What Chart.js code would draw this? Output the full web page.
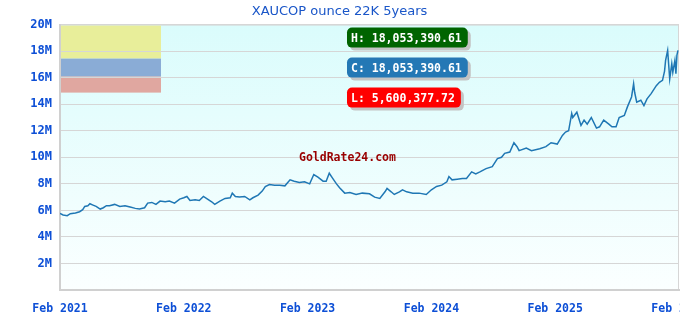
<!DOCTYPE html>
<html>
<head>
<meta charset="utf-8">
<script src="https://cdn.jsdelivr.net/npm/chart.js@4"></script>
<style>
  html, body { margin: 0; padding: 0; background: #fff; overflow: hidden; }
  #wrap { width: 680px; height: 320px; }
</style>
</head>
<body>
<div id="wrap"><canvas id="chart" width="680" height="320"></canvas></div>
<script>
// Months since Feb 2021 and price in millions COP
const months = [
  0, 0.3, 0.7, 1.0, 1.5, 1.9, 2.2, 2.4, 2.7, 2.9, 3.2, 3.5, 3.9, 4.2, 4.5, 4.8, 5.3, 5.8, 6.3, 6.8,
  7.3, 7.7, 8.2, 8.5, 8.9, 9.3, 9.7, 10.2, 10.6, 11.1, 11.6, 12.0, 12.3, 12.6, 13.1, 13.5, 13.9, 14.3, 14.7, 15.0,
  15.5, 16.0, 16.5, 16.7, 17.0, 17.4, 17.9, 18.4, 18.7, 19.2, 19.6, 19.9, 20.3, 20.8, 21.3, 21.8, 22.3, 22.7, 23.2, 23.7,
  24.2, 24.6, 25.0, 25.5, 25.8, 26.1, 26.4, 26.8, 27.1, 27.6, 28.1, 28.7, 29.3, 30.0, 30.5, 31.0, 31.5, 31.7, 32.1, 32.4,
  32.9, 33.2, 33.6, 34.2, 34.8, 35.5, 36.0, 36.5, 37.0, 37.5, 37.7, 38.0, 38.5, 39.0, 39.4, 39.9, 40.3, 40.7, 41.3, 41.9,
  42.4, 42.8, 43.1, 43.6, 44.0, 44.3, 44.5, 45.2, 45.7, 46.5, 47.1, 47.6, 48.2, 48.7, 49.0, 49.3, 49.6, 49.7, 50.1, 50.5,
  50.8, 51.1, 51.5, 52.0, 52.3, 52.7, 53.2, 53.5, 53.9, 54.2, 54.7, 55.0, 55.4, 55.6, 55.7, 55.9, 56.3, 56.6, 56.9, 57.3,
  57.8, 58.1, 58.4, 58.6, 58.7, 58.9, 59.1, 59.3, 59.4, 59.6, 59.7, 59.8, 59.9
];
const pricesM = [
  5.77, 5.65, 5.60037772, 5.75, 5.8, 5.9, 6.05, 6.3, 6.35, 6.5, 6.4, 6.3, 6.1, 6.2, 6.35, 6.35, 6.45, 6.3, 6.35, 6.25,
  6.15, 6.1, 6.2, 6.55, 6.6, 6.45, 6.7, 6.65, 6.7, 6.55, 6.85, 6.95, 7.05, 6.75, 6.8, 6.75, 7.05, 6.85, 6.65, 6.45,
  6.7, 6.9, 6.95, 7.3, 7.05, 7.0, 7.05, 6.8, 6.95, 7.15, 7.45, 7.8, 7.95, 7.9, 7.9, 7.85, 8.3, 8.2, 8.1, 8.15,
  8.0, 8.7, 8.5, 8.2, 8.2, 8.8, 8.45, 8.0, 7.7, 7.3, 7.35, 7.2, 7.3, 7.25, 7.0, 6.9, 7.4, 7.65, 7.4, 7.2,
  7.4, 7.55, 7.4, 7.3, 7.3, 7.2, 7.55, 7.8, 7.9, 8.15, 8.55, 8.3, 8.35, 8.4, 8.4, 8.9, 8.75, 8.9, 9.15, 9.3,
  9.9, 10.0, 10.3, 10.4, 11.1, 10.8, 10.5, 10.7, 10.5, 10.65, 10.8, 11.1, 11.0, 11.65, 11.9, 12.0, 13.3, 13.0, 13.4, 12.4,
  12.8, 12.5, 13.0, 12.2, 12.3, 12.8, 12.5, 12.3, 12.3, 13.0, 13.15, 13.8, 14.55, 15.55, 14.9, 14.15, 14.3, 13.9, 14.4, 14.8,
  15.4, 15.65, 15.8, 16.5, 17.3, 18.05339061, 15.9, 17.05, 16.4, 17.3, 16.3, 17.7, 18.05339061
];
const yTicks = [0, 2, 4, 6, 8, 10, 12, 14, 16, 18, 20];
const startYear = 2021;
const titleText = 'XAUCOP ounce 22K 5years';

const prices = pricesM.map(v => v * 1e6);
const points = months.map((m, i) => ({ x: m, y: prices[i] }));

const fmt = v => v.toLocaleString('en-US', { minimumFractionDigits: 2, maximumFractionDigits: 2 });
const high = Math.max(...prices);
const low = Math.min(...prices);
const close = prices[prices.length - 1];

const tickBlue = '#0d4fd6';
const monoFont = '"DejaVu Sans Mono", "Liberation Mono", monospace';

function roundRect(ctx, x, y, w, h, r) {
  ctx.beginPath();
  ctx.moveTo(x + r, y);
  ctx.arcTo(x + w, y, x + w, y + h, r);
  ctx.arcTo(x + w, y + h, x, y + h, r);
  ctx.arcTo(x, y + h, x, y, r);
  ctx.arcTo(x, y, x + w, y, r);
  ctx.closePath();
}

// plot background gradient + legend-ish colour blocks
const backdrop = {
  id: 'backdrop',
  beforeDraw(chart) {
    const { ctx, chartArea: a } = chart;
    ctx.save();
    const g = ctx.createLinearGradient(0, a.top, 0, a.bottom);
    g.addColorStop(0, '#dafcfc');
    g.addColorStop(1, '#fbffff');
    ctx.fillStyle = g;
    ctx.fillRect(a.left, a.top, a.right - a.left, a.bottom - a.top);
    ctx.strokeStyle = '#d6d6d6';
    ctx.lineWidth = 1;
    ctx.strokeRect(a.left + 0.5, a.top + 0.5, a.right - a.left - 1, a.bottom - a.top);
    ctx.fillStyle = '#e8ee9a';
    ctx.fillRect(a.left + 1, a.top + 1, 100, 33);
    ctx.fillStyle = '#8aacd6';
    ctx.fillRect(a.left + 1, a.top + 34, 100, 18);
    ctx.fillStyle = '#e0a7a0';
    ctx.fillRect(a.left + 1, a.top + 52, 100, 16);
    ctx.restore();
  }
};

// H / C / L badges and watermark
const badges = {
  id: 'badges',
  afterDraw(chart) {
    const { ctx, chartArea: a } = chart;
    const items = [
      { text: 'H: ' + fmt(high), color: '#006400', y: a.top + 3 },
      { text: 'C: ' + fmt(close), color: '#2478b5', y: a.top + 33 },
      { text: 'L: ' + fmt(low), color: '#ff0000', y: a.top + 63 }
    ];
    ctx.save();
    ctx.font = 'bold 11.5px ' + monoFont;
    ctx.textBaseline = 'middle';
    items.forEach(it => {
      const x = a.left + 287;
      const w = ctx.measureText(it.text).width + 10;
      const h = 20;
      ctx.fillStyle = '#c4c4c4';
      roundRect(ctx, x + 3, it.y + 3, w, h, 5);
      ctx.fill();
      ctx.fillStyle = it.color;
      roundRect(ctx, x, it.y, w, h, 5);
      ctx.fill();
      ctx.fillStyle = '#ffffff';
      ctx.fillText(it.text, x + 4, it.y + h / 2 + 1);
    });
    ctx.font = 'bold 11.5px ' + monoFont;
    ctx.fillStyle = '#990000';
    ctx.fillText('GoldRate24.com', a.left + 239, a.top + 133);
    ctx.restore();
  }
};

new Chart(document.getElementById('chart'), {
  type: 'line',
  data: {
    datasets: [{
      data: points,
      borderColor: '#1f77b4',
      borderWidth: 1.5,
      pointRadius: 0,
      tension: 0,
      fill: false
    }]
  },
  options: {
    responsive: false,
    animation: false,
    layout: { padding: { left: 0, right: 1, top: 0, bottom: 0 } },
    plugins: {
      legend: { display: false },
      tooltip: { enabled: false },
      title: {
        display: true,
        text: titleText,
        color: '#1a56c8',
        font: { family: '"DejaVu Sans", sans-serif', size: 13, weight: 'normal' },
        padding: { top: 4, bottom: 5 }
      }
    },
    scales: {
      x: {
        type: 'linear',
        min: 0,
        max: 60,
        grid: { display: false, drawTicks: false },
        border: { color: '#d0d0d0', width: 2 },
        ticks: {
          stepSize: 12,
          maxRotation: 0,
          padding: 12,
          color: tickBlue,
          font: { family: monoFont, size: 11.5, weight: 'bold' },
          callback: v => 'Feb ' + (startYear + v / 12)
        },
        afterFit: s => { s.height = 30; s.paddingRight = 0; }
      },
      y: {
        min: 0,
        max: 20e6,
        afterBuildTicks: s => { s.ticks = yTicks.map(v => ({ value: v * 1e6 })); },
        grid: { color: '#d6d6d6', lineWidth: 1, drawTicks: false },
        border: { color: '#d0d0d0', width: 2 },
        ticks: {
          padding: 8,
          color: tickBlue,
          font: { family: monoFont, size: 12, weight: 'bold' },
          callback: v => v === 0 ? '' : (v / 1e6) + 'M'
        },
        afterFit: s => { s.width = 60; }
      }
    }
  },
  plugins: [backdrop, badges]
});
</script>
</body>
</html>
